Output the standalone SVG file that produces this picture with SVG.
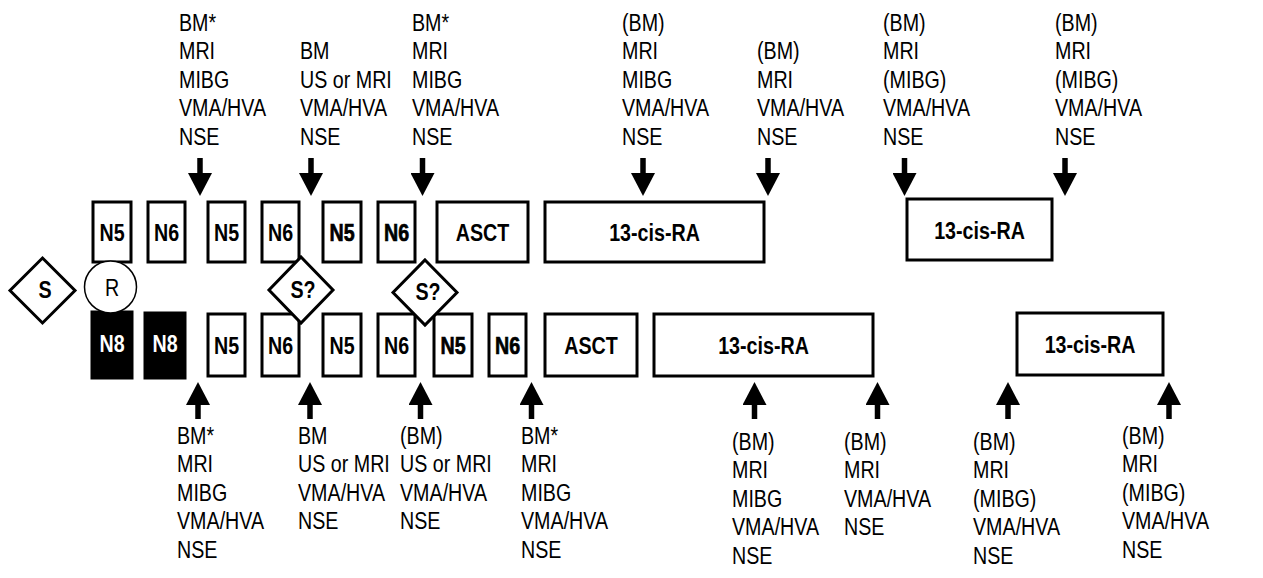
<svg xmlns="http://www.w3.org/2000/svg" width="1263" height="578" viewBox="0 0 1263 578">
<style>
.box{fill:#fff;stroke:#000;stroke-width:3}
.blk{fill:#000;stroke:#000;stroke-width:3}
.dia{fill:#fff;stroke:#000;stroke-width:3}
.cir{fill:#fff;stroke:#000;stroke-width:1.5}
.bl{font-family:"Liberation Sans",Arial,sans-serif;font-size:24px;font-weight:bold;text-anchor:middle;fill:#000}
.hv{stroke:#000;stroke-width:0.7}
.wt{fill:#fff}
.rg{font-family:"Liberation Sans",Arial,sans-serif;font-size:24px;text-anchor:middle;fill:#000}
.lab{font-family:"Liberation Sans",Arial,sans-serif;font-size:24px;fill:#000}
.shaft{stroke:#000;stroke-width:5.5;fill:none}
</style>
<defs>
<marker id="ah" viewBox="0 0 23 24" refX="0" refY="12" markerWidth="23" markerHeight="24" markerUnits="userSpaceOnUse" orient="auto">
<path d="M0,0 L23,12 L0,24 z" fill="#000"/>
</marker>
</defs>

<g id="top-row">
<g id="t-n5a"><rect class="box" x="93" y="202" width="38" height="60"/><text class="bl" transform="translate(112 241) scale(0.82 1)">N5</text></g>
<g id="t-n6a"><rect class="box" x="148" y="202" width="37" height="60"/><text class="bl" transform="translate(166.5 241) scale(0.82 1)">N6</text></g>
<g id="t-n5b"><rect class="box" x="208" y="202" width="37" height="60"/><text class="bl" transform="translate(226.5 241) scale(0.82 1)">N5</text></g>
<g id="t-n6b"><rect class="box" x="262" y="202" width="37" height="60"/><text class="bl" transform="translate(280.5 241) scale(0.82 1)">N6</text></g>
<g id="t-n5c"><rect class="box" x="323" y="202" width="38" height="60"/><text class="bl hv" transform="translate(342 241) scale(0.82 1)">N5</text></g>
<g id="t-n6c"><rect class="box" x="378" y="202" width="37" height="60"/><text class="bl hv" transform="translate(396.5 241) scale(0.82 1)">N6</text></g>
<g id="t-asct"><rect class="box" x="437" y="202" width="91" height="60"/><text class="bl" transform="translate(482.5 241) scale(0.82 1)">ASCT</text></g>
<g id="t-ra1"><rect class="box" x="545" y="202" width="219" height="60"/><text class="bl" transform="translate(654.5 241) scale(0.82 1)">13-cis-RA</text></g>
<g id="t-ra2"><rect class="box" x="907" y="199" width="145" height="61"/><text class="bl" transform="translate(979.5 238.5) scale(0.82 1)">13-cis-RA</text></g>
</g>

<g id="bottom-row">
<g id="b-n8a"><rect class="blk" x="92" y="312" width="40" height="66"/><text class="bl wt" transform="translate(112 352) scale(0.82 1)">N8</text></g>
<g id="b-n8b"><rect class="blk" x="145" y="313" width="40" height="65"/><text class="bl wt" transform="translate(165 352) scale(0.82 1)">N8</text></g>
<g id="b-n5a"><rect class="box" x="208" y="314" width="37" height="62"/><text class="bl" transform="translate(226.5 353.5) scale(0.82 1)">N5</text></g>
<g id="b-n6a"><rect class="box" x="262" y="314" width="37" height="62"/><text class="bl" transform="translate(280.5 353.5) scale(0.82 1)">N6</text></g>
<g id="b-n5b"><rect class="box" x="323" y="314" width="38" height="62"/><text class="bl" transform="translate(342 353.5) scale(0.82 1)">N5</text></g>
<g id="b-n6b"><rect class="box" x="378" y="314" width="37" height="62"/><text class="bl" transform="translate(396.5 353.5) scale(0.82 1)">N6</text></g>
<g id="b-n5c"><rect class="box" x="434" y="314" width="38" height="62"/><text class="bl hv" transform="translate(453 353.5) scale(0.82 1)">N5</text></g>
<g id="b-n6c"><rect class="box" x="489" y="314" width="37" height="62"/><text class="bl hv" transform="translate(507.5 353.5) scale(0.82 1)">N6</text></g>
<g id="b-asct"><rect class="box" x="545" y="314" width="92" height="62"/><text class="bl" transform="translate(591 353.5) scale(0.82 1)">ASCT</text></g>
<g id="b-ra1"><rect class="box" x="654" y="314" width="219" height="62"/><text class="bl" transform="translate(763.5 353.5) scale(0.82 1)">13-cis-RA</text></g>
<g id="b-ra2"><rect class="box" x="1017" y="313" width="146" height="62"/><text class="bl" transform="translate(1090 352.5) scale(0.82 1)">13-cis-RA</text></g>
</g>

<g id="decisions">
<g id="s"><path class="dia" d="M42.5,258 L75,290.5 L42.5,323 L10,290.5 Z"/><text class="bl" transform="translate(45 298) scale(0.82 1)">S</text></g>
<g id="r"><circle class="cir" cx="110.5" cy="287" r="26"/><text class="rg" transform="translate(112 296) scale(0.82 1)">R</text></g>
<g id="s1"><path class="dia" d="M301,257 L333,290 L301,323 L269,290 Z"/><text class="bl" transform="translate(303 298) scale(0.82 1)">S?</text></g>
<g id="s2"><path class="dia" d="M425,260 L457,292.5 L425,325 L393,292.5 Z"/><text class="bl" transform="translate(428 300) scale(0.82 1)">S?</text></g>
</g>

<g id="connectors">
<line class="shaft" x1="200" y1="158" x2="200" y2="173" marker-end="url(#ah)"/>
<line class="shaft" x1="311" y1="158" x2="311" y2="173" marker-end="url(#ah)"/>
<line class="shaft" x1="422.5" y1="158" x2="422.5" y2="173" marker-end="url(#ah)"/>
<line class="shaft" x1="643" y1="158" x2="643" y2="173" marker-end="url(#ah)"/>
<line class="shaft" x1="768" y1="158" x2="768" y2="173" marker-end="url(#ah)"/>
<line class="shaft" x1="904.5" y1="158" x2="904.5" y2="173" marker-end="url(#ah)"/>
<line class="shaft" x1="1065" y1="158" x2="1065" y2="173" marker-end="url(#ah)"/>
<line class="shaft" x1="198" y1="419" x2="198" y2="405" marker-end="url(#ah)"/>
<line class="shaft" x1="310" y1="419" x2="310" y2="405" marker-end="url(#ah)"/>
<line class="shaft" x1="420.5" y1="419" x2="420.5" y2="405" marker-end="url(#ah)"/>
<line class="shaft" x1="531.5" y1="419" x2="531.5" y2="405" marker-end="url(#ah)"/>
<line class="shaft" x1="754.5" y1="419" x2="754.5" y2="405" marker-end="url(#ah)"/>
<line class="shaft" x1="877.5" y1="419" x2="877.5" y2="405" marker-end="url(#ah)"/>
<line class="shaft" x1="1008" y1="419" x2="1008" y2="405" marker-end="url(#ah)"/>
<line class="shaft" x1="1169" y1="419" x2="1169" y2="405" marker-end="url(#ah)"/>
</g>

<g id="top-labels" class="lab">
<g id="tl1" transform="translate(179 0) scale(0.82 1)"><text y="31">BM*</text><text y="59.5">MRI</text><text y="88">MIBG</text><text y="116.5">VMA/HVA</text><text y="145">NSE</text></g>
<g id="tl2" transform="translate(300 0) scale(0.82 1)"><text y="59.5">BM</text><text y="88">US or MRI</text><text y="116.5">VMA/HVA</text><text y="145">NSE</text></g>
<g id="tl3" transform="translate(412 0) scale(0.82 1)"><text y="31">BM*</text><text y="59.5">MRI</text><text y="88">MIBG</text><text y="116.5">VMA/HVA</text><text y="145">NSE</text></g>
<g id="tl4" transform="translate(622 0) scale(0.82 1)"><text y="31">(BM)</text><text y="59.5">MRI</text><text y="88">MIBG</text><text y="116.5">VMA/HVA</text><text y="145">NSE</text></g>
<g id="tl5" transform="translate(757 0) scale(0.82 1)"><text y="59.5">(BM)</text><text y="88">MRI</text><text y="116.5">VMA/HVA</text><text y="145">NSE</text></g>
<g id="tl6" transform="translate(883 0) scale(0.82 1)"><text y="31">(BM)</text><text y="59.5">MRI</text><text y="88">(MIBG)</text><text y="116.5">VMA/HVA</text><text y="145">NSE</text></g>
<g id="tl7" transform="translate(1055 0) scale(0.82 1)"><text y="31">(BM)</text><text y="59.5">MRI</text><text y="88">(MIBG)</text><text y="116.5">VMA/HVA</text><text y="145">NSE</text></g>
</g>

<g id="bottom-labels" class="lab">
<g id="bl1" transform="translate(177 0) scale(0.82 1)"><text y="444">BM*</text><text y="472.5">MRI</text><text y="501">MIBG</text><text y="529.5">VMA/HVA</text><text y="558">NSE</text></g>
<g id="bl2" transform="translate(298 0) scale(0.82 1)"><text y="444">BM</text><text y="472.5">US or MRI</text><text y="501">VMA/HVA</text><text y="529.5">NSE</text></g>
<g id="bl3" transform="translate(400 0) scale(0.82 1)"><text y="444">(BM)</text><text y="472.5">US or MRI</text><text y="501">VMA/HVA</text><text y="529.5">NSE</text></g>
<g id="bl4" transform="translate(521 0) scale(0.82 1)"><text y="444">BM*</text><text y="472.5">MRI</text><text y="501">MIBG</text><text y="529.5">VMA/HVA</text><text y="558">NSE</text></g>
<g id="bl5" transform="translate(732 0) scale(0.82 1)"><text y="450">(BM)</text><text y="478.5">MRI</text><text y="507">MIBG</text><text y="535.5">VMA/HVA</text><text y="564">NSE</text></g>
<g id="bl6" transform="translate(844 0) scale(0.82 1)"><text y="450">(BM)</text><text y="478.5">MRI</text><text y="507">VMA/HVA</text><text y="535.5">NSE</text></g>
<g id="bl7" transform="translate(973 0) scale(0.82 1)"><text y="450">(BM)</text><text y="478.5">MRI</text><text y="507">(MIBG)</text><text y="535.5">VMA/HVA</text><text y="564">NSE</text></g>
<g id="bl8" transform="translate(1122 0) scale(0.82 1)"><text y="444">(BM)</text><text y="472.5">MRI</text><text y="501">(MIBG)</text><text y="529.5">VMA/HVA</text><text y="558">NSE</text></g>
</g>
</svg>
